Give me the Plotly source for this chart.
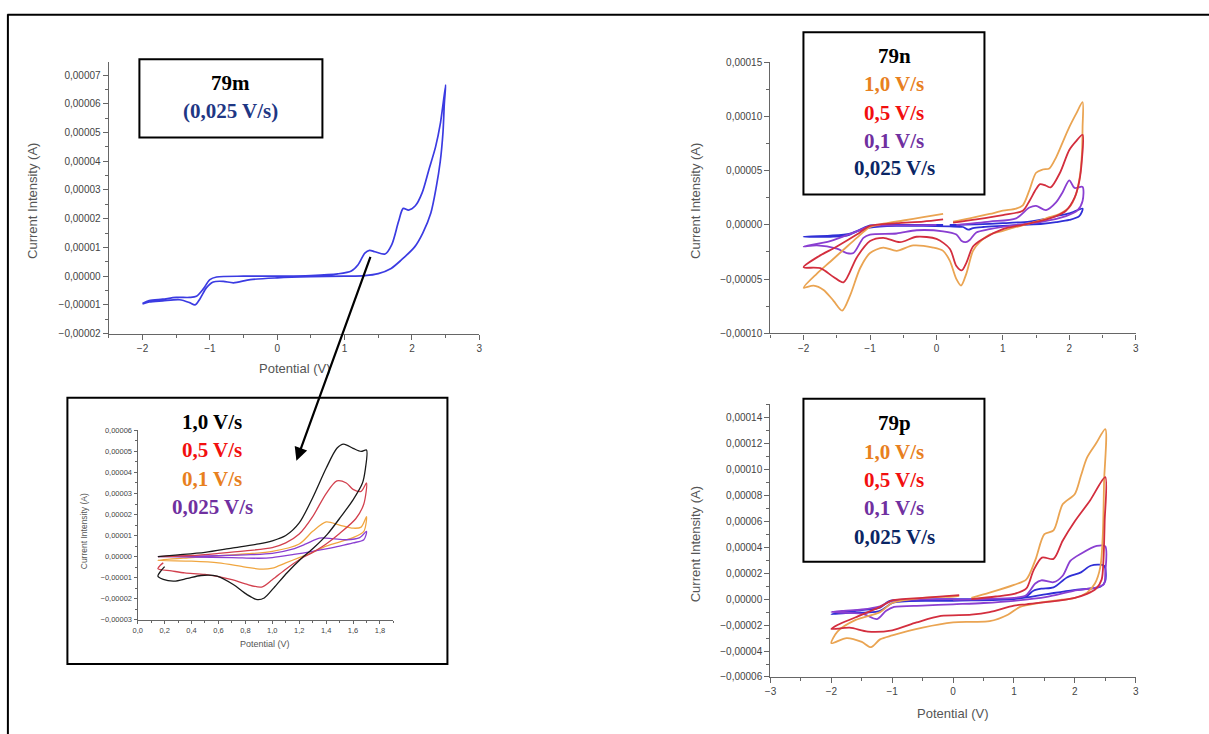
import numpy as np
import plotly.graph_objects as go

W, H = 1209, 734
S = 1e-5  # current values below are stored in units of 1e-5 A

# ---------------- Panel 79m (0,025 V/s) ----------------
m_E = [-2.0, -1.9, -1.7, -1.5, -1.3, -1.2, -1.1, -1.0, -0.9, -0.5, 0.0, 0.5, 0.9, 1.1, 1.2, 1.3, 1.37, 1.45,
       1.6, 1.7, 1.8, 1.87, 1.95, 2.05, 2.15, 2.25, 2.35, 2.42, 2.5,
       2.48, 2.46, 2.42, 2.36, 2.28, 2.16, 2.04, 1.84, 1.69, 1.5, 1.3, 1.0, 0.5, 0.0, -0.4, -0.65, -0.8,
       -0.95, -1.05, -1.15, -1.22, -1.3, -1.45, -1.7, -1.9, -2.0]
m_I = [-0.95, -0.85, -0.8, -0.74, -0.74, -0.7, -0.45, -0.12, -0.03, 0.0, 0.0, 0.02, 0.08, 0.18, 0.4, 0.8, 0.9, 0.85,
       0.77, 1.1, 1.9, 2.36, 2.3, 2.45, 2.9, 3.7, 4.5, 5.3, 6.66,
       6.0, 5.0, 4.0, 3.1, 2.2, 1.5, 1.02, 0.56, 0.27, 0.09, 0.02, 0.0, -0.02, -0.06, -0.12, -0.23, -0.18,
       -0.2, -0.4, -0.8, -1.0, -0.92, -0.82, -0.86, -0.9, -0.97]

# ---------------- Inset (zoom 0,15 - 1,7 V) ----------------
ins10_E = [0.15, 0.3, 0.5, 0.7, 0.9, 1.0, 1.1, 1.2, 1.3, 1.4, 1.48, 1.53, 1.6, 1.66, 1.7,
           1.69, 1.67, 1.6, 1.51, 1.41, 1.31, 1.21, 1.11, 1.01, 0.94, 0.89, 0.81, 0.71, 0.59, 0.47,
           0.37, 0.27, 0.19, 0.15, 0.17, 0.2]
ins10_I = [0.0, 0.08, 0.2, 0.4, 0.6, 0.75, 1.0, 1.6, 2.8, 4.2, 5.15, 5.35, 5.15, 5.0, 5.07,
           4.1, 3.5, 2.7, 1.9, 1.07, 0.43, -0.13, -0.77, -1.5, -1.97, -2.05, -1.8, -1.33, -0.93, -0.9,
           -1.04, -1.17, -1.09, -0.93, -0.7, -0.48]
ins05_E = [0.15, 0.4, 0.6, 0.8, 1.0, 1.1, 1.2, 1.3, 1.4, 1.48, 1.55, 1.6, 1.66, 1.7,
           1.68, 1.62, 1.5, 1.4, 1.3, 1.2, 1.1, 1.0, 0.92, 0.8, 0.7, 0.5, 0.35, 0.25, 0.15, 0.17, 0.19]
ins05_I = [0.0, 0.05, 0.15, 0.27, 0.43, 0.65, 1.07, 1.9, 3.0, 3.6, 3.5, 3.2, 3.1, 3.5,
           2.5, 1.8, 1.1, 0.6, 0.2, -0.15, -0.6, -1.1, -1.45, -1.3, -1.1, -0.85, -0.78, -0.68, -0.58, -0.4, -0.3]
ins01_E = [0.15, 0.4, 0.7, 1.0, 1.2, 1.3, 1.4, 1.5, 1.6, 1.66, 1.7,
           1.68, 1.6, 1.4, 1.3, 1.2, 1.1, 1.0, 0.93, 0.8, 0.6, 0.4, 0.15]
ins01_I = [-0.18, -0.05, 0.08, 0.25, 0.6, 1.2, 1.65, 1.5, 1.35, 1.4, 1.9,
           1.2, 0.9, 0.5, 0.2, -0.05, -0.3, -0.55, -0.6, -0.5, -0.3, -0.22, -0.18]
ins0025_E = [0.15, 0.5, 0.8, 1.0, 1.15, 1.25, 1.35, 1.45, 1.55, 1.65, 1.7,
             1.68, 1.6, 1.5, 1.4, 1.3, 1.16, 1.0, 0.9, 0.7, 0.4, 0.15]
ins0025_I = [0.0, 0.03, 0.08, 0.15, 0.35, 0.6, 0.88, 0.85, 0.8, 0.9, 1.2,
             0.8, 0.65, 0.5, 0.37, 0.25, 0.1, -0.05, -0.08, -0.05, -0.02, 0.0]

# ---------------- Panel 79n ----------------
n10_E = [0.25, 0.5, 0.8, 1.0, 1.2, 1.3, 1.4, 1.5, 1.6, 1.7, 1.8, 1.9, 2.0, 2.1, 2.2,
         2.2, 2.19, 2.16, 2.1, 2.0, 1.85, 1.7, 1.5, 1.2, 1.0, 0.8, 0.65, 0.55, 0.45, 0.37, 0.3, 0.2, 0.1,
         -0.05, -0.35, -0.6, -0.8, -1.0, -1.15, -1.3, -1.42, -1.55, -1.7, -1.85, -2.0,
         -1.8, -1.6, -1.4, -1.2, -1.0, -0.8, -0.5, -0.2, 0.1]
n10_I = [0.3, 0.6, 1.0, 1.3, 1.5, 1.8, 3.2, 4.8, 5.1, 5.2, 6.2, 7.6, 9.0, 10.2, 11.3,
         9.0, 6.5, 4.5, 2.8, 1.6, 1.0, 0.7, 0.3, -0.2, -0.55, -0.9, -1.6, -2.4, -4.5, -5.6, -5.0, -3.3, -2.4,
         -2.1, -1.9, -2.4, -2.1, -2.6, -4.0, -6.5, -7.9, -7.0, -6.0, -5.6, -5.8,
         -4.5, -3.4, -2.3, -1.2, -0.2, 0.1, 0.4, 0.7, 1.0]
n05_E = [0.25, 0.6, 1.0, 1.3, 1.4, 1.5, 1.56, 1.65, 1.72, 1.86, 2.0, 2.1, 2.2,
         2.19, 2.15, 2.08, 1.95, 1.8, 1.6, 1.3, 1.0, 0.7, 0.55, 0.45, 0.38, 0.3, 0.2, 0.0, -0.3, -0.55,
         -0.8, -1.0, -1.2, -1.4, -1.55, -1.75, -2.0,
         -1.8, -1.5, -1.2, -1.0, -0.6, -0.2, 0.1]
n05_I = [0.2, 0.5, 0.9, 1.3, 2.2, 3.3, 3.75, 3.6, 3.45, 4.8, 6.9, 7.7, 8.3,
         6.0, 4.0, 2.5, 1.3, 0.8, 0.4, 0.0, -0.4, -1.3, -2.0, -3.5, -4.2, -3.8, -2.2, -1.3, -1.1, -1.6,
         -1.2, -1.5, -3.0, -5.3, -4.8, -4.0, -3.9,
         -3.0, -2.0, -0.9, -0.1, 0.15, 0.3, 0.5]
n01_E = [0.3, 0.8, 1.2, 1.4, 1.5, 1.65, 1.8, 1.9, 2.0, 2.08, 2.2,
         2.2, 2.12, 1.95, 1.6, 1.2, 0.8, 0.6, 0.5, 0.44, 0.38, 0.3, 0.1, -0.3, -0.6, -1.0, -1.1, -1.25,
         -1.35, -1.5, -1.8, -2.0,
         -1.6, -1.2, -1.0, -0.5, 0.0]
n01_I = [0.0, 0.3, 0.6, 1.6, 1.75, 1.35, 2.06, 3.0, 4.1, 3.4, 3.5,
         2.2, 1.3, 0.8, 0.3, 0.0, -0.4, -0.7, -1.4, -1.6, -1.5, -0.9, -0.6, -0.5, -0.8, -0.9, -1.2, -2.6,
         -2.6, -2.2, -1.9, -2.0,
         -1.5, -0.6, -0.15, -0.05, 0.0]
n0025_E = [0.2, 0.6, 1.0, 1.4, 1.6, 1.8, 2.0, 2.2,
           2.15, 2.0, 1.8, 1.6, 1.3, 1.0, 0.7, 0.55, 0.48, 0.4, 0.2, -0.2, -0.6, -1.0, -1.2, -1.35, -1.6, -2.0,
           -1.6, -1.3, -1.1, -1.0, -0.6, -0.2, 0.1]
n0025_I = [0.0, 0.05, 0.15, 0.3, 0.5, 0.8, 1.05, 1.5,
           0.8, 0.45, 0.25, 0.1, 0.0, -0.1, -0.2, -0.3, -0.45, -0.2, -0.15, -0.1, -0.1, -0.25, -0.6, -1.0, -1.1, -1.1,
           -1.0, -0.8, -0.3, -0.05, 0.0, 0.0, 0.0]

# ---------------- Panel 79p ----------------
p10_E = [0.3, 0.6, 1.0, 1.2, 1.35, 1.5, 1.65, 1.8, 2.0, 2.1, 2.2, 2.35, 2.5,
         2.48, 2.46, 2.42, 2.33, 2.2, 2.0, 1.7, 1.4, 1.1, 0.9, 0.6, 0.3, 0.0, -0.5, -1.0, -1.2, -1.35,
         -1.5, -1.75, -2.0,
         -1.9, -1.6, -1.2, -1.0, -0.5, 0.0, 0.1]
p10_I = [0.1, 0.5, 1.1, 1.5, 3.0, 5.0, 5.3, 7.3, 8.1, 9.5, 10.9, 12.0, 13.1,
         9.0, 5.0, 2.5, 1.2, 0.5, 0.1, -0.1, -0.3, -0.6, -1.2, -1.7, -1.75, -1.8, -2.2, -2.8, -3.1, -3.7,
         -3.3, -3.0, -3.4,
         -2.5, -1.6, -1.0, -0.3, 0.1, 0.2, 0.25]
p05_E = [0.3, 0.7, 1.0, 1.2, 1.32, 1.46, 1.65, 1.8, 2.0, 2.25, 2.5,
         2.49, 2.47, 2.44, 2.35, 2.2, 2.0, 1.6, 1.2, 1.0, 0.6, 0.3, -0.2, -0.6, -1.0, -1.4, -1.7, -2.0,
         -1.9, -1.6, -1.2, -1.0, -0.5, 0.1]
p05_I = [0.0, 0.2, 0.4, 0.8, 2.2, 3.2, 3.1, 4.5, 6.0, 7.6, 9.4,
         6.0, 3.0, 1.5, 0.8, 0.4, 0.1, -0.2, -0.4, -0.5, -1.0, -1.2, -1.3, -1.8, -2.4, -2.5, -2.2, -2.3,
         -2.0, -1.4, -0.6, -0.1, 0.1, 0.3]
p01_E = [0.0, 0.5, 1.0, 1.2, 1.35, 1.45, 1.65, 1.8, 1.93, 2.1, 2.36, 2.5,
         2.5, 2.48, 2.36, 1.98, 1.54, 1.0, 0.5, 0.0, -0.5, -0.97, -1.1, -1.25, -1.47, -1.75, -2.0,
         -1.8, -1.5, -1.2, -1.0, -0.5, 0.0]
p01_I = [-0.05, 0.0, 0.1, 0.3, 1.2, 1.45, 1.3, 1.8, 2.96, 3.5, 4.1, 4.06,
         2.0, 1.16, 0.9, 0.64, 0.18, -0.13, -0.3, -0.4, -0.5, -0.6, -0.9, -1.54, -1.16, -1.05, -1.0,
         -0.9, -0.8, -0.55, -0.13, -0.02, 0.0]
p0025_E = [0.0, 0.5, 1.0, 1.2, 1.32, 1.45, 1.65, 1.87, 2.1, 2.26, 2.48,
           2.5, 2.42, 1.98, 1.54, 1.0, 0.0, -0.97, -1.2, -1.4, -1.7, -2.0,
           -1.8, -1.5, -1.2, -1.05, -0.5, 0.0]
p0025_I = [0.0, 0.0, 0.0, 0.2, 0.64, 0.8, 0.9, 1.67, 2.06, 2.57, 2.57,
           1.4, 0.95, 0.7, 0.39, 0.0, -0.13, -0.26, -0.9, -1.03, -1.05, -1.16,
           -1.0, -0.85, -0.65, -0.15, -0.02, 0.0]

# ---------------- styling ----------------
TXT_ORANGE, TXT_RED, TXT_PURPLE, TXT_NAVY = '#E8801E', '#F20F0F', '#7030A0', '#0A2564'
C_ORANGE, C_RED, C_PURPLE, C_BLUE = '#EAA452', '#D32E3E', '#8A3FD1', '#2F2FD6'

# mapping from target-picture pixels to page (paper) coordinates; compensates the
# slight scale/offset observed between the page and the returned picture
KX, OX, KY, OY = 0.9925, 5.6, 0.984, 4.7


def px(x):
    return ((x - OX) / KX) / W


def py(y):
    return 1 - ((y - OY) / KY) / H


fig = go.Figure()


def add(E, I, color, ax, width=1.8):
    fig.add_trace(go.Scatter(x=E, y=np.array(I) * S, mode='lines', xaxis='x' + ax, yaxis='y' + ax,
                             line=dict(color=color, width=width, shape='spline', smoothing=0.8),
                             showlegend=False, hoverinfo='skip'))


add(m_E, m_I, '#3B3BE2', '', 1.7)
add(ins01_E, ins01_I, '#F0A640', '2', 1.3)
add(ins0025_E, ins0025_I, C_PURPLE, '2', 1.3)
add(ins05_E, ins05_I, '#D2404E', '2', 1.3)
add(ins10_E, ins10_I, '#1a1a1a', '2', 1.3)
add(n0025_E, n0025_I, C_BLUE, '3')
add(n01_E, n01_I, C_PURPLE, '3')
add(n10_E, n10_I, C_ORANGE, '3')
add(n05_E, n05_I, C_RED, '3')
add(p0025_E, p0025_I, C_BLUE, '4')
add(p01_E, p01_I, C_PURPLE, '4')
add(p10_E, p10_I, C_ORANGE, '4')
add(p05_E, p05_I, C_RED, '4')

AX = dict(showline=True, linecolor='#666', linewidth=1.4, ticks='outside', ticklen=5, tickcolor='#666',
          tickwidth=1.2, showgrid=False, zeroline=False)


def axis(domain, rng, dtick, fmt, size, anchor, minor):
    d = dict(AX)
    d.update(domain=domain, range=rng, dtick=dtick, tick0=0, tickformat=fmt, anchor=anchor,
             tickfont=dict(family='Liberation Sans', color='#444', size=size),
             minor=dict(ticks='outside', ticklen=3, tickcolor='#666', dtick=minor, showgrid=False))
    return d


layout = dict(width=W, height=H, margin=dict(l=0, r=0, t=0, b=0), paper_bgcolor='white',
              plot_bgcolor='rgba(0,0,0,0)', separators=', ', showlegend=False)

layout['xaxis'] = axis([px(108.4), px(479)], [-2.5, 3.001], 1, 'd', 10, 'y', 0.5)
layout['yaxis'] = axis([py(333), py(61.8)], [-2.0001e-5, 7.45e-5], 1e-5, '.5f', 10, 'x', 5e-6)
layout['xaxis2'] = axis([px(137.3), px(393)], [0, 1.9], 0.2, '.1f', 7.5, 'y2', 0.1)
layout['yaxis2'] = axis([py(618.7), py(429.5)], [-3.0001e-5, 6.01e-5], 1e-5, '.5f', 7.5, 'x2', 5e-6)
layout['xaxis3'] = axis([px(770), px(1135.3)], [-2.5, 3.001], 1, 'd', 10, 'y3', 0.5)
layout['yaxis3'] = axis([py(332.7), py(61.7)], [-1.0001e-4, 1.5001e-4], 5e-5, '.5f', 10, 'x3', 2.5e-5)
layout['xaxis4'] = axis([px(770), px(1135.3)], [-3.001, 3.001], 1, 'd', 10, 'y4', 0.5)
layout['yaxis4'] = axis([py(676), py(403.7)], [-6.0001e-5, 1.5e-4], 2e-5, '.5f', 10, 'x4', 1e-5)
for k in ['xaxis2', 'yaxis2']:
    layout[k]['ticklen'] = 3
    layout[k]['minor']['ticklen'] = 2

shapes = []


def rect(x0, y0, x1, y1, w=2):
    shapes.append(dict(type='rect', xref='paper', yref='paper', x0=px(x0), x1=px(x1), y0=py(y0), y1=py(y1),
                       line=dict(color='black', width=w), fillcolor='rgba(0,0,0,0)'))


def hline(x0, x1, y, w=2):
    shapes.append(dict(type='line', xref='paper', yref='paper', x0=px(x0), x1=px(x1), y0=py(y), y1=py(y),
                       line=dict(color='black', width=w)))


def vline(x, y0, y1, w=2):
    shapes.append(dict(type='line', xref='paper', yref='paper', x0=px(x), x1=px(x), y0=py(y0), y1=py(y1),
                       line=dict(color='black', width=w)))


hline(7, 1215, 14.5)
vline(7.5, 14, 745)
rect(139, 59, 322, 137)
rect(67, 397, 447, 663)
rect(803, 32, 984, 194)
rect(803, 398, 984, 561)
layout['shapes'] = shapes

ann = []


def text(s, x, y, color, size=21, bold=True, family='Liberation Serif', angle=0):
    ann.append(dict(text=('<b>%s</b>' % s) if bold else s, x=px(x), y=py(y), xref='paper', yref='paper',
                    xanchor='center', yanchor='middle', showarrow=False, textangle=angle,
                    font=dict(family=family, size=size, color=color)))


# box labels
text('79m', 230.5, 83, 'black')
text('(0,025 V/s)', 230.5, 111, '#1F3784')
inset_labels = ['1,0 V/s', '0,5 V/s', '0,1 V/s', '0,025 V/s']
for s, c, y in zip(inset_labels, ['black', TXT_RED, TXT_ORANGE, TXT_PURPLE], [421, 449, 478, 506]):
    text(s, 212, y, c)
panel_labels = ['1,0 V/s', '0,5 V/s', '0,1 V/s', '0,025 V/s']
panel_colors = [TXT_ORANGE, TXT_RED, TXT_PURPLE, TXT_NAVY]
text('79n', 894, 56, 'black')
for s, c, y in zip(panel_labels, panel_colors, [84, 112.5, 141, 168]):
    text(s, 894, y, c)
text('79p', 894, 422.5, 'black')
for s, c, y in zip(panel_labels, panel_colors, [451, 479, 507.5, 536]):
    text(s, 894, y, c)

# axis titles
SANS = 'Liberation Sans'
text('Potential (V)', 295, 368, '#555', 13, False, SANS)
text('Current Intensity (A)', 32, 200, '#555', 13, False, SANS, -90)
text('Potential (V)', 265, 643, '#555', 9, False, SANS)
text('Current Intensity (A)', 83, 530, '#555', 8.5, False, SANS, -90)
text('Current Intensity (A)', 695, 200, '#555', 13, False, SANS, -90)
text('Current Intensity (A)', 695, 543, '#555', 13, False, SANS, -90)
text('Potential (V)', 953, 712, '#555', 13, False, SANS)

# arrow from 79m peak to inset
ann.append(dict(x=px(296), y=py(460), xref='paper', yref='paper', ax=(370 - 296) / KX, ay=(258 - 460) / KY,
                axref='pixel', ayref='pixel', text='', showarrow=True, arrowhead=2, arrowsize=1.2,
                arrowwidth=2.2, arrowcolor='black'))
layout['annotations'] = ann

fig.update_layout(**layout)
POST = ("document.documentElement.style.overflow='hidden';document.body.style.margin='0';"
        "document.body.style.overflow='hidden';var d=document.getElementById('{plot_id}');"
        "d.style.position='fixed';d.style.left='0px';d.style.top='0px';")
fig.write_html('out.html', config={'displayModeBar': False}, post_script=POST)
